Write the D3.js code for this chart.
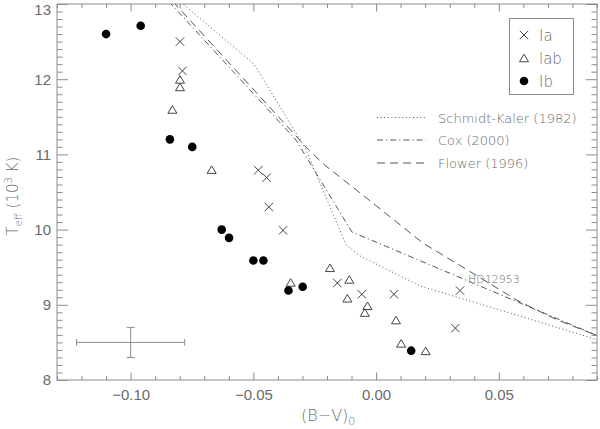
<!DOCTYPE html>
<html><head><meta charset="utf-8">
<script src="https://cdn.jsdelivr.net/npm/d3@7"></script>
<style>
html,body{margin:0;padding:0;background:#fff;}
svg{display:block;font-family:"DejaVu Sans","Liberation Sans",sans-serif;}
</style></head>
<body>
<svg id="c" width="600" height="429"></svg>
<script>
// ---- data ----
const iaX = [-0.0799, -0.0789, -0.0480, -0.0446, -0.0437, -0.0379, -0.0158, -0.0058, 0.0073, 0.0342, 0.0323];
const iaY = [12.50, 12.11, 10.79, 10.69, 10.30, 9.99, 9.29, 9.14, 9.14, 9.19, 8.69];
const iabX = [-0.0799, -0.0799, -0.0830, -0.0670, -0.0348, -0.0188, -0.0109, -0.0117, -0.0035, -0.0046, 0.0081, 0.0102, 0.0202];
const iabY = [11.99, 11.89, 11.59, 10.79, 9.29, 9.485, 9.33, 9.08, 8.98, 8.89, 8.79, 8.48, 8.38];
const ibX = [-0.1100, -0.0959, -0.0840, -0.0749, -0.0629, -0.0599, -0.0500, -0.0459, -0.0357, -0.0299, 0.0143];
const ibY = [12.60, 12.71, 11.20, 11.10, 10.00, 9.89, 9.59, 9.59, 9.19, 9.24, 8.39];

const skX = [-0.0840, -0.0497, -0.0289, -0.0122, -0.0065, 0.0179, 0.0505, 0.0905];
const skY = [13.146, 12.20, 11.085, 9.795, 9.649, 9.25, 8.93, 8.532];
const coxX = [-0.0880, -0.0326, -0.0099, 0.0905];
const coxY = [13.16, 11.19, 9.97, 8.585];
const flX = [-0.0864, -0.0326, -0.0275, -0.0210, -0.0012, 0.0191, 0.0354, 0.0574, 0.0737, 0.0905];
const flY = [13.16, 11.245, 11.06, 10.86, 10.35, 9.82, 9.50, 9.06, 8.80, 8.585];

const xMajor = [-0.10, -0.05, 0.00, 0.05];
const yMajor = [8, 9, 10, 11, 12, 13];
const errBar = {x: -0.10, y: 8.5, dx: 0.022, dy: 0.2};
const legendSymbols = ["Ia", "Iab", "Ib"];
const legendSymbolText = ["Ia", "lab", "Ib"];
const legendLines = ["Schmidt-Kaler (1982)", "Cox (2000)", "Flower (1996)"];
const starLabel = {name: "HD12953", x: 0.0342, y: 9.19};

// ---- layout ----
const L = 57, R = 597, T = 4, B = 380;
const axisCol = "#8c8c8c", textCol = "#6a6a6a", markCol = "#444";
const x = d3.scaleLinear().domain([-0.13, 0.09]).range([L, R]);
const y = d3.scaleLinear().domain([8, 13]).range([B, T]);
const svg = d3.select("#c");

const xMinor = d3.range(-13, 10).map(v => v / 100).filter(v => !xMajor.some(m => Math.abs(m - v) < 1e-9));
const yMinor = d3.range(80, 131).map(v => v / 10).filter(v => Math.abs(v - Math.round(v)) > 1e-9);
const fmt = v => (v < 0 ? "\u2212" : "") + Math.abs(v).toFixed(2);

function styleAxis(g) {
  g.select(".domain").remove();
  g.selectAll("line").attr("stroke", axisCol).attr("stroke-width", 1);
  g.selectAll("text").attr("fill", textCol).attr("font-size", 15).attr("font-weight", 200);
}
// bottom
svg.append("g").attr("transform", `translate(0,${B})`)
  .call(d3.axisBottom(x).tickValues(xMajor).tickSizeInner(-7.5).tickSizeOuter(0).tickPadding(9).tickFormat(fmt)).call(styleAxis);
svg.append("g").attr("transform", `translate(0,${B})`)
  .call(d3.axisBottom(x).tickValues(xMinor).tickSizeInner(-4).tickSizeOuter(0).tickFormat("")).call(styleAxis);
// top
svg.append("g").attr("transform", `translate(0,${T})`)
  .call(d3.axisTop(x).tickValues(xMajor).tickSizeInner(-7.5).tickSizeOuter(0).tickFormat("")).call(styleAxis);
svg.append("g").attr("transform", `translate(0,${T})`)
  .call(d3.axisTop(x).tickValues(xMinor).tickSizeInner(-4).tickSizeOuter(0).tickFormat("")).call(styleAxis);
// left
const yAx = svg.append("g").attr("transform", `translate(${L},0)`)
  .call(d3.axisLeft(y).tickValues(yMajor).tickSizeInner(-11).tickSizeOuter(0).tickPadding(6).tickFormat(d3.format("d"))).call(styleAxis);
// keep the top label inside the picture, as in the reference
yAx.selectAll(".tick").filter(d => d === 13).select("text").attr("dy", "0.72em");
svg.append("g").attr("transform", `translate(${L},0)`)
  .call(d3.axisLeft(y).tickValues(yMinor).tickSizeInner(-5.5).tickSizeOuter(0).tickFormat("")).call(styleAxis);
// right
svg.append("g").attr("transform", `translate(${R},0)`)
  .call(d3.axisRight(y).tickValues(yMajor).tickSizeInner(-11).tickSizeOuter(0).tickFormat("")).call(styleAxis);
svg.append("g").attr("transform", `translate(${R},0)`)
  .call(d3.axisRight(y).tickValues(yMinor).tickSizeInner(-5.5).tickSizeOuter(0).tickFormat("")).call(styleAxis);
// frame
svg.append("rect").attr("x", L).attr("y", T).attr("width", R - L).attr("height", B - T)
  .attr("fill", "none").attr("stroke", axisCol).attr("stroke-width", 1);

// clip
svg.append("clipPath").attr("id", "clip").append("rect")
  .attr("x", L).attr("y", T).attr("width", R - L).attr("height", B - T);
const plot = svg.append("g").attr("clip-path", "url(#clip)");

const line = d3.line().x(d => x(d[0])).y(d => y(d[1]));
const curves = [
  {xs: skX, ys: skY, dash: "1,2.6"},
  {xs: coxX, ys: coxY, dash: "6,3,1.2,3"},
  {xs: flX, ys: flY, dash: "8,5"}
];
curves.forEach(c => {
  plot.append("path").attr("d", line(c.xs.map((v, i) => [v, c.ys[i]])))
    .attr("fill", "none").attr("stroke", "#555").attr("stroke-width", 1).attr("stroke-dasharray", c.dash);
});

// markers
function cross(g, cx, cy, s) {
  g.append("path").attr("d", `M${cx - s},${cy - s}L${cx + s},${cy + s}M${cx - s},${cy + s}L${cx + s},${cy - s}`)
    .attr("stroke", markCol).attr("stroke-width", 1).attr("fill", "none");
}
function tri(g, cx, cy, s) {
  g.append("path").attr("d", `M${cx},${cy - s}L${cx + s * 1.05},${cy + s * 0.75}L${cx - s * 1.05},${cy + s * 0.75}Z`)
    .attr("stroke", markCol).attr("stroke-width", 1).attr("fill", "none");
}
function dot(g, cx, cy, r) {
  g.append("circle").attr("cx", cx).attr("cy", cy).attr("r", r).attr("fill", "#000");
}
iaX.forEach((v, i) => cross(plot, x(v), y(iaY[i]), 4.2));
iabX.forEach((v, i) => tri(plot, x(v), y(iabY[i]), 4.3));
ibX.forEach((v, i) => dot(plot, x(v), y(ibY[i]), 4.3));

// star label
svg.append("text").attr("x", x(starLabel.x) + 8).attr("y", y(starLabel.y) - 7.5)
  .attr("font-size", 11).attr("font-weight", 200).attr("fill", textCol).text(starLabel.name);

// error bar
const eb = svg.append("g").attr("stroke", axisCol).attr("stroke-width", 1);
const ex0 = x(errBar.x - errBar.dx), ex1 = x(errBar.x + errBar.dx), ey = y(errBar.y);
const eyt = y(errBar.y + errBar.dy), eyb = y(errBar.y - errBar.dy), exc = x(errBar.x);
eb.append("line").attr("x1", ex0).attr("x2", ex1).attr("y1", ey).attr("y2", ey);
eb.append("line").attr("x1", ex0).attr("x2", ex0).attr("y1", ey - 3.3).attr("y2", ey + 3.3);
eb.append("line").attr("x1", ex1).attr("x2", ex1).attr("y1", ey - 3.3).attr("y2", ey + 3.3);
eb.append("line").attr("x1", exc).attr("x2", exc).attr("y1", eyt).attr("y2", eyb);
eb.append("line").attr("x1", exc - 4).attr("x2", exc + 4).attr("y1", eyt).attr("y2", eyt);
eb.append("line").attr("x1", exc - 4).attr("x2", exc + 4).attr("y1", eyb).attr("y2", eyb);

// symbol legend
svg.append("rect").attr("x", 509.5).attr("y", 18.5).attr("width", 64).attr("height", 76)
  .attr("fill", "none").attr("stroke", axisCol).attr("stroke-width", 1);
const legY = [35, 58, 81];
cross(svg, 524, legY[0], 4.2);
tri(svg, 524, legY[1] + 0.5, 4.3);
dot(svg, 524, legY[2], 4.3);
legendSymbolText.forEach((t, i) => {
  svg.append("text").attr("x", 539).attr("y", legY[i] + 5.5).attr("font-size", 15).attr("font-weight", 200)
    .attr("fill", textCol).text(t);
});
// line legend
const llY = [117.5, 140, 163];
legendLines.forEach((t, i) => {
  svg.append("line").attr("x1", 377).attr("x2", 426).attr("y1", llY[i]).attr("y2", llY[i])
    .attr("stroke", "#555").attr("stroke-width", 1).attr("stroke-dasharray", curves[i].dash);
  svg.append("text").attr("x", 438).attr("y", llY[i] + 5).attr("font-size", 13).attr("font-weight", 200)
    .attr("fill", textCol).text(t);
});

// axis titles
const xt = svg.append("text").attr("x", 301).attr("y", 421).attr("font-size", 16).attr("font-weight", 200).attr("fill", textCol);
xt.append("tspan").text("(B\u2212V)");
xt.append("tspan").attr("font-size", 11).attr("dy", 3.5).text("0");

const yt = svg.append("text").attr("transform", "translate(18,196) rotate(-90)").attr("text-anchor", "middle")
  .attr("font-size", 15).attr("font-weight", 200).attr("fill", textCol);
yt.append("tspan").text("T");
yt.append("tspan").attr("font-size", 10).attr("dy", 4).text("eff");
yt.append("tspan").attr("dy", -4).text(" (10");
yt.append("tspan").attr("font-size", 10).attr("dy", -6).text("3");
yt.append("tspan").attr("dy", 6).text(" K)");
</script>
</body></html>
